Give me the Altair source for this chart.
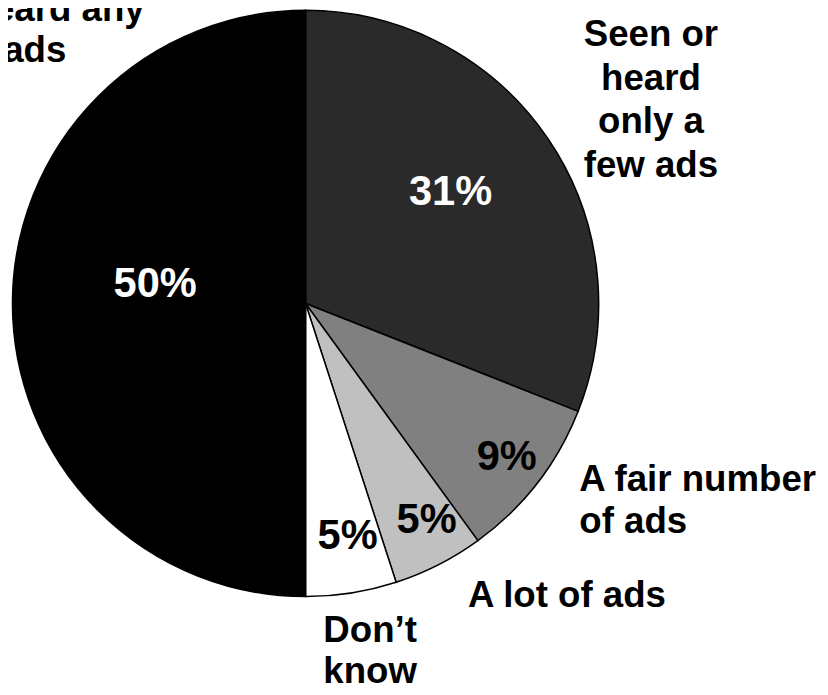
import math
import altair as alt
import pandas as pd

# ---- data ----
CATEGORIES = [
    "Seen or heard only a few ads",
    "A fair number of ads",
    "A lot of ads",
    "Don’t know",
    "Haven’t seen or heard any ads",
]
VALUES = [31, 9, 5, 5, 50]
PCT_LABELS = ["31%", "9%", "5%", "5%", "50%"]
LABEL_LINES = [
    "Seen or\nheard\nonly a\nfew ads",
    "A fair number\nof ads",
    "A lot of ads",
    "Don’t\nknow",
    "Haven’t seen\nor heard any\nads",
]

# ---- style ----
SLICE_COLORS = ["#2a2a2a", "#808080", "#c0c0c0", "#ffffff", "#000000"]
PCT_TEXT_COLORS = ["#ffffff", "#000000", "#000000", "#000000", "#ffffff"]
PCT_SHIFT_DEG = [0, 1.9, -0.8, -0.7, 2.3]
PCT_RADIUS = [177, 264, 262, 252, 152]
LBL_SHIFT_DEG = [-2.5, -3.4, -1.1, -1.8, 50.0]
LBL_RADIUS = [435, 335, 348, 348, 425.5]
LBL_ALIGN = ["center", "left", "left", "center", "center"]
LBL_LINE_HEIGHT = [44, 43, 43, 41, 41]
FONT = "Liberation Sans"

mids = []
acc = 0
for v in VALUES:
    acc += v
    mids.append(acc - v / 2)

df = pd.DataFrame({
    "idx": list(range(len(VALUES))),
    "category": CATEGORIES,
    "value": VALUES,
    "pct": PCT_LABELS,
    "label": LABEL_LINES,
    "pct_theta": [m + d / 3.6 for m, d in zip(mids, PCT_SHIFT_DEG)],
    "pct_r": PCT_RADIUS,
    "lbl_theta": [m + d / 3.6 for m, d in zip(mids, LBL_SHIFT_DEG)],
    "lbl_r": LBL_RADIUS,
})

theta_scale = alt.Scale(domain=[0, 100], range=[0, 2 * math.pi])
base = alt.Chart(df)

arcs = base.mark_arc(outerRadius=296, stroke="black", strokeWidth=1.5).encode(
    theta=alt.Theta("value:Q", stack=True, scale=alt.Scale(domain=[0, 100])),
    color=alt.Color("category:N",
                    scale=alt.Scale(domain=CATEGORIES, range=SLICE_COLORS),
                    legend=None),
    order=alt.Order("idx:Q"),
)

layers = [arcs]
for i in range(len(VALUES)):
    layers.append(
        base.transform_filter(alt.datum.idx == i).mark_text(
            font=FONT, fontWeight="bold", fontSize=42, align="center",
            baseline="alphabetic", color=PCT_TEXT_COLORS[i]
        ).encode(
            theta=alt.Theta("pct_theta:Q", stack=False, scale=theta_scale),
            radius=alt.Radius("pct_r:Q", scale=None),
            text="pct:N",
        )
    )
    layers.append(
        base.transform_filter(alt.datum.idx == i).mark_text(
            font=FONT, fontWeight="bold", fontSize=37, align=LBL_ALIGN[i],
            baseline="alphabetic", color="#000000", lineBreak="\n",
            lineHeight=LBL_LINE_HEIGHT[i]
        ).encode(
            theta=alt.Theta("lbl_theta:Q", stack=False, scale=theta_scale),
            radius=alt.Radius("lbl_r:Q", scale=None),
            text="label:N",
        )
    )

chart = alt.layer(*layers).resolve_scale(
    theta="independent", color="independent"
).properties(
    width=601,
    height=590,
    autosize=alt.AutoSizeParams(type="none"),
    padding={"left": 0, "top": 0, "right": 219, "bottom": 95},
    background="white",
).configure_view(stroke=None)

chart.save("out.html", embed_options={"renderer": "svg", "actions": False})
